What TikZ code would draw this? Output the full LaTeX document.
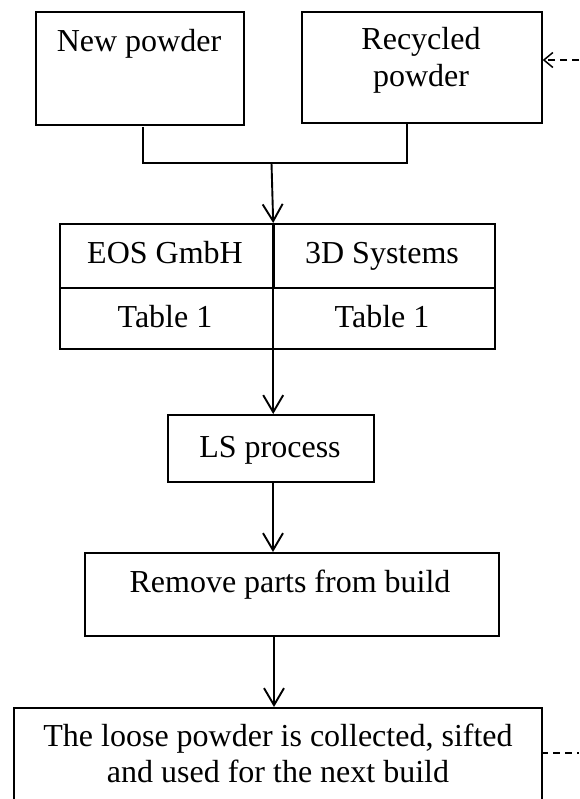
\documentclass[tikz,border=0pt]{standalone}
\usepackage{fontspec}
\setmainfont{Liberation Serif}
\usetikzlibrary{arrows.meta}
\begin{document}
\begin{tikzpicture}[x=1pt,y=-1pt,
  box/.style={draw,line width=1.7pt,inner sep=0pt,anchor=north west},
  txt/.style={font=\fontsize{32}{37}\selectfont,inner sep=0pt,anchor=base},
  conn/.style={line width=1.9pt},
  arr/.style={line width=1.9pt,-{Straight Barb[length=17pt,width=20pt,line width=1.9pt]}},
  dsh/.style={line width=1.5pt,dash pattern=on 7pt off 5pt}]
\useasboundingbox (0,0) rectangle (579,799);
\clip (0,0) rectangle (579,799);
% top boxes
\node[box,minimum width=208pt,minimum height=113pt] (new) at (35,11) {};
\node[txt] (newt) at (139,52) {New powder};
\node[box,minimum width=240pt,minimum height=111pt] (rec) at (301,11) {};
\node[txt] (rect1) at (421,50) {Recycled};
\node[txt] (rect2) at (421,87) {powder};
% junction
\coordinate (j1) at (143,127);
\coordinate (j2) at (143,163);
\coordinate (j3) at (407,163);
\coordinate (j4) at (407,122);
\coordinate (jm) at (271.5,163);
\draw[conn] (j1) -- (j2) -- (j3) -- (j4);
% table
\node[box,minimum width=212.5pt,minimum height=64pt] (eos) at (59,223) {};
\node[box,minimum width=222.5pt,minimum height=64pt] (sys) at (271.5,223) {};
\node[box,minimum width=212.5pt,minimum height=61pt] (ta) at (59,287) {};
\node[box,minimum width=222.5pt,minimum height=61pt] (tb) at (271.5,287) {};
\node[txt] at (165,263) {EOS GmbH};
\node[txt] at (382,263) {3D Systems};
\node[txt] at (165,327) {Table 1};
\node[txt] at (382,327) {Table 1};
\draw[line width=2.7pt] (eos.north east) -- (eos.south east);
\draw[line width=1.9pt] (ta.north east) -- (ta.south east);
\draw[arr] (jm) -- (eos.north east);
% LS process
\node[box,minimum width=206pt,minimum height=67pt] (ls) at (167,414) {};
\node[txt] at (270,457) {LS process};
\draw[arr] (ta.south east) -- (ta.south east |- ls.north);
% Remove
\node[box,minimum width=414pt,minimum height=83pt] (rem) at (84,552) {};
\node[txt] at (290,592) {Remove parts from build};
\coordinate (a1) at (273,481);
\draw[arr] (a1) -- (a1 |- rem.north);
% Loose
\node[box,minimum width=528pt,minimum height=120pt] (loose) at (13,707) {};
\node[txt] at (278,746) {The loose powder is collected, sifted};
\node[txt] at (278,782) {and used for the next build};
\coordinate (a2) at (274,637);
\draw[arr] (a2) -- (a2 |- loose.north);
% dashed return
\coordinate (d0) at (541,753);
\coordinate (d1) at (579,753);
\draw[dsh] (d0) -- (d1);
\coordinate (d2) at (579,60);
\draw[dsh,-{Straight Barb[length=9pt,width=15pt,line width=1.5pt]}] (d2) -- (rec.east |- d2);
\end{tikzpicture}
\end{document}
